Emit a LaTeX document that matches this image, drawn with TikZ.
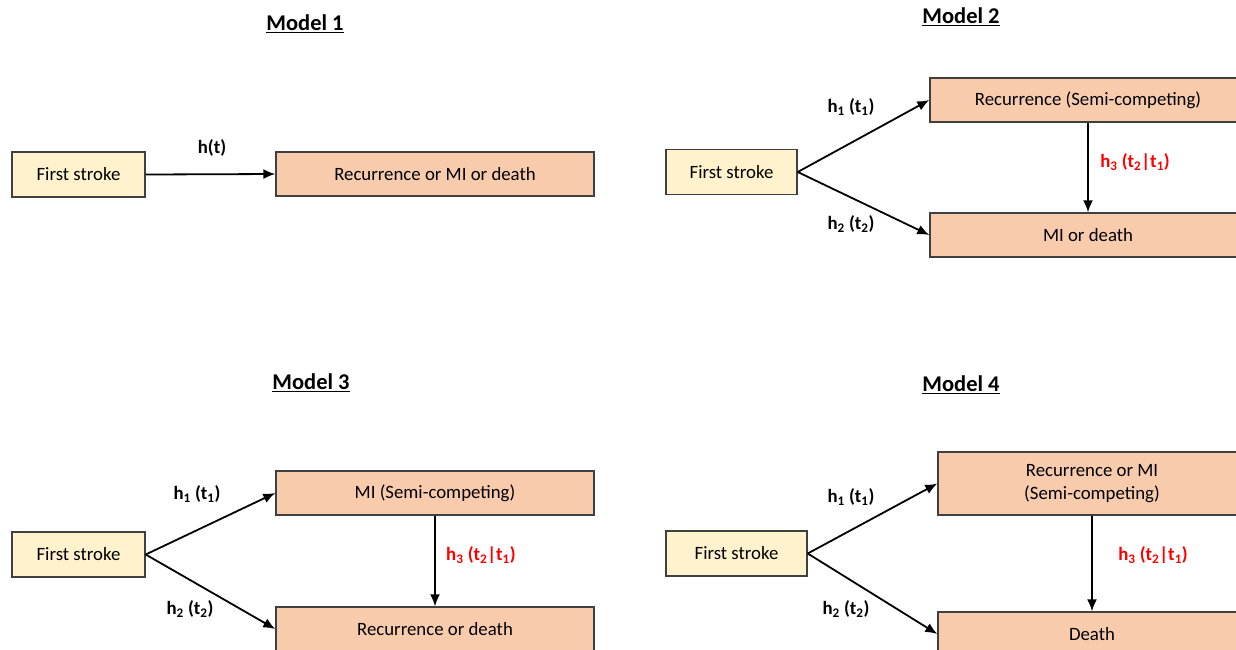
\documentclass[tikz,border=0pt]{standalone}
\usepackage{fontspec}
\setmainfont{Carlito}
\usetikzlibrary{arrows.meta}
\definecolor{strokefill}{HTML}{FFF2CC}
\definecolor{eventfill}{HTML}{F8CBAD}
\definecolor{boxline}{HTML}{404040}
\tikzset{
  startbox/.style={draw=boxline, line width=1.4pt, fill=strokefill, minimum width=133pt,
    minimum height=45pt, inner sep=0pt, font=\fontsize{18.8}{22}\selectfont},
  eventbox/.style={draw=boxline, line width=1.4pt, fill=eventfill, minimum width=318pt,
    minimum height=44pt, inner sep=0pt, align=center, font=\fontsize{18.8}{23}\selectfont},
  haz/.style={font=\bfseries\fontsize{18.8}{22}\selectfont},
  modeltitle/.style={font=\bfseries\fontsize{22.5}{27}\selectfont},
  flow/.style={-{Latex[length=12pt,width=10pt]}, line width=1.8pt}
}
\begin{document}
\begin{tikzpicture}[x=1pt,y=-1pt]
\useasboundingbox (0,0) rectangle (1236,649);

% Model 1
\node[modeltitle] (title1) at (305,24) {\underline{Model 1}};
\node[startbox] (first1) at (78.5,174.5) {First stroke};
\node[eventbox] (event1) at (435,174) {Recurrence or MI or death};
\draw[flow] (first1.east) -- (event1.west);
\node[haz] (ht1) at (212,148) {h(t)};

% Model 2
\node[modeltitle] (title2) at (961,17) {\underline{Model 2}};
\node[startbox, minimum width=131pt] (first2) at (731.5,172) {First stroke};
\node[eventbox, minimum width=316pt] (semi2) at (1088,100) {Recurrence (Semi-competing)};
\node[eventbox, minimum width=316pt] (end2) at (1088,235) {MI or death};
\draw[flow] (first2.east) -- (semi2.west);
\draw[flow] (first2.east) -- (end2.west);
\draw[flow] (semi2) -- (end2);
\node[haz] (ha2) at (851,107) {h\textsubscript{1} (t\textsubscript{1})};
\node[haz] (hb2) at (851,224) {h\textsubscript{2} (t\textsubscript{2})};
\node[haz, text=red] (hc2) at (1135,162) {h\textsubscript{3} (t\textsubscript{2}|t\textsubscript{1})};

% Model 3
\node[modeltitle] (title3) at (311,383) {\underline{Model 3}};
\node[startbox] (first3) at (78.5,554.5) {First stroke};
\node[eventbox] (semi3) at (435,493) {MI (Semi-competing)};
\node[eventbox] (end3) at (435,629) {Recurrence or death};
\draw[flow] (first3.east) -- (semi3.west);
\draw[flow] (first3.east) -- (end3.west);
\draw[flow] (semi3) -- (end3);
\node[haz] (ha3) at (197,494) {h\textsubscript{1} (t\textsubscript{1})};
\node[haz] (hb3) at (190,609) {h\textsubscript{2} (t\textsubscript{2})};
\node[haz, text=red] (hc3) at (481,555) {h\textsubscript{3} (t\textsubscript{2}|t\textsubscript{1})};

% Model 4
\node[modeltitle] (title4) at (961,385) {\underline{Model 4}};
\node[startbox, minimum width=141pt] (first4) at (736.5,553.5) {First stroke};
\node[eventbox, minimum width=308pt, minimum height=63pt] (semi4) at (1092,483.5) {Recurrence or MI\\(Semi-competing)};
\node[eventbox, minimum width=308pt] (end4) at (1092,634) {Death};
\draw[flow] (first4.east) -- (semi4.west);
\draw[flow] (first4.east) -- (end4.west);
\draw[flow] (semi4) -- (end4);
\node[haz] (ha4) at (851,497) {h\textsubscript{1} (t\textsubscript{1})};
\node[haz] (hb4) at (846,609) {h\textsubscript{2} (t\textsubscript{2})};
\node[haz, text=red] (hc4) at (1153,555) {h\textsubscript{3} (t\textsubscript{2}|t\textsubscript{1})};

\end{tikzpicture}
\end{document}
